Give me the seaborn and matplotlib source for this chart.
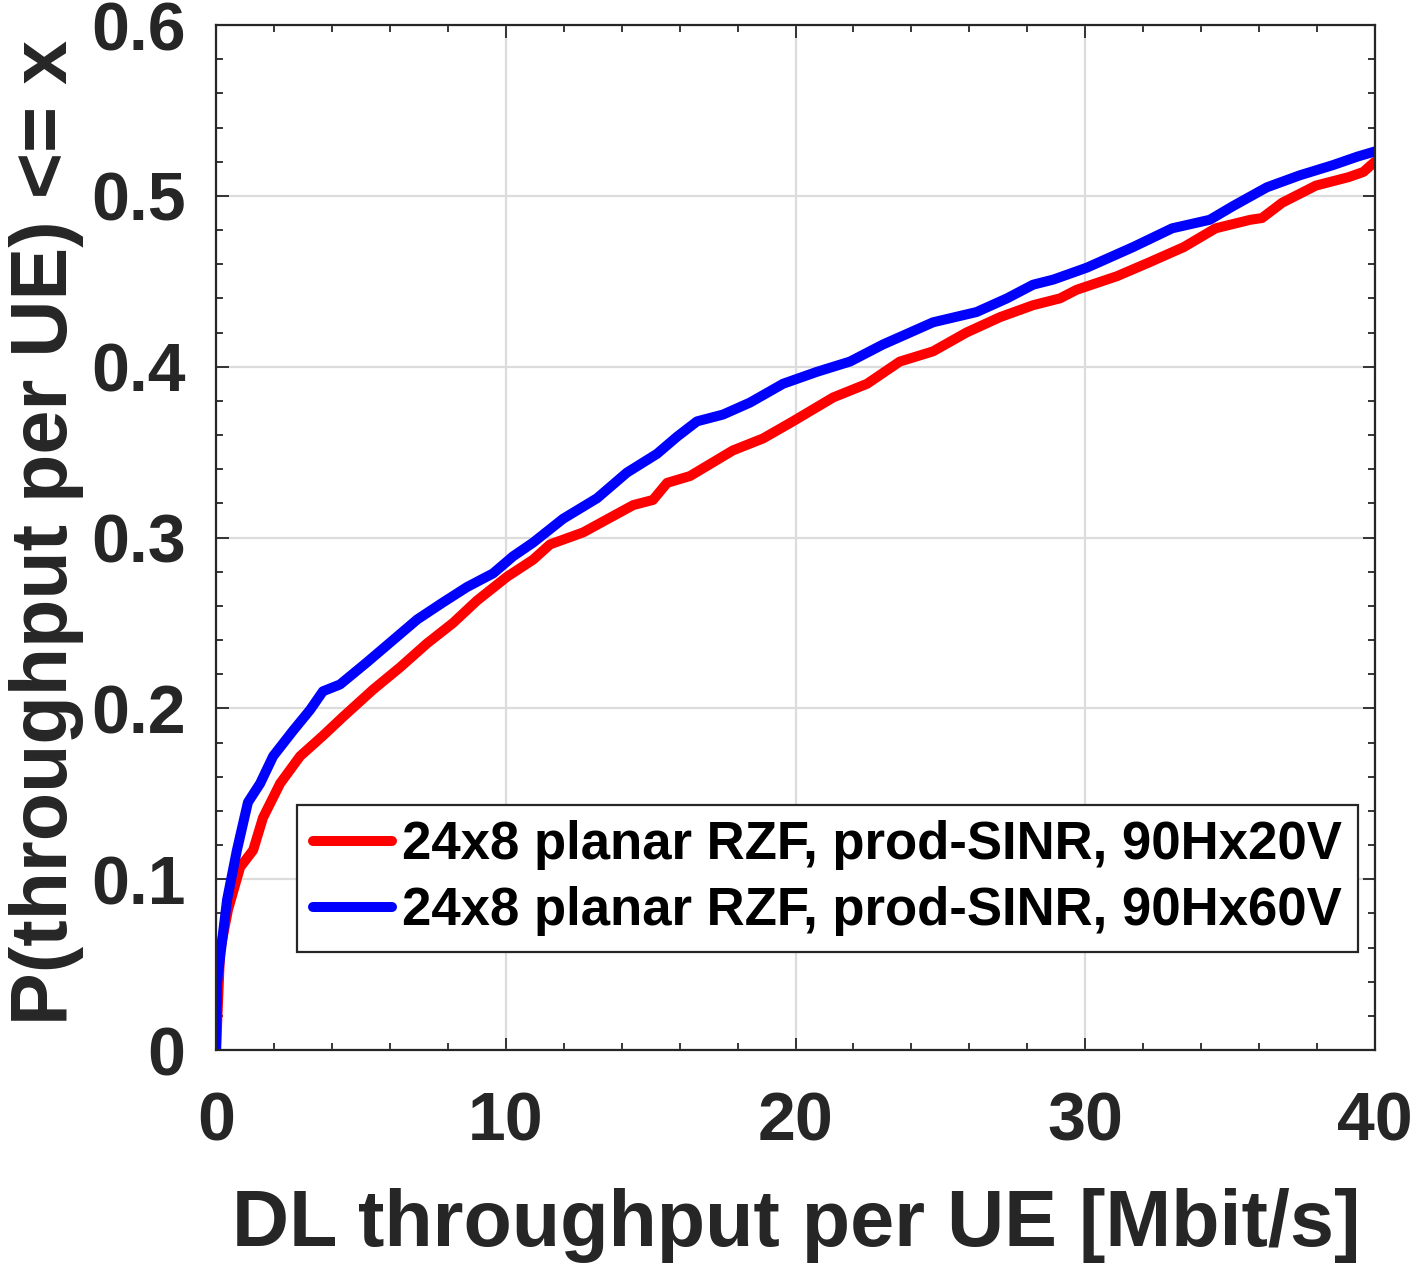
import matplotlib
matplotlib.use("Agg")
import matplotlib.pyplot as plt
from matplotlib.ticker import MultipleLocator
import pandas as pd
import seaborn as sns

# CDF
red_x = [0, 0.14, 0.41, 0.83, 1.28, 1.62, 2.21, 2.9, 3.69, 4.38, 5.42, 6.35, 7.28, 8.18,
         9.0, 10.04, 10.94, 11.53, 12.67, 14.4, 15.08, 15.57, 16.36, 17.84, 18.88, 19.91,
         21.3, 22.47, 23.6, 24.75, 25.9, 27.06, 28.2, 29.13, 29.7, 31.1, 32.2, 33.4, 34.5,
         35.7, 36.1, 36.8, 37.96, 39.1, 39.6, 40.0]
red_y = [0, 0.058, 0.082, 0.107, 0.117, 0.136, 0.156, 0.172, 0.184, 0.195, 0.211, 0.224,
         0.238, 0.250, 0.263, 0.277, 0.287, 0.296, 0.303, 0.319, 0.322, 0.332, 0.336, 0.351,
         0.358, 0.368, 0.382, 0.390, 0.403, 0.409, 0.420, 0.429, 0.436, 0.440, 0.445, 0.453,
         0.461, 0.470, 0.481, 0.486, 0.487, 0.496, 0.506, 0.511, 0.514, 0.520]

blue_x = [0, 0.03, 0.38, 0.72, 1.1, 1.52, 1.97, 2.66, 3.24, 3.69, 4.28, 5.21, 6.11, 6.94,
          7.83, 8.66, 9.56, 10.25, 10.94, 11.98, 13.15, 14.18, 15.22, 15.91, 16.6, 17.5,
          18.43, 19.57, 20.74, 21.88, 23.02, 24.75, 26.25, 27.3, 28.2, 28.9, 30.06, 31.65,
          33.0, 34.3, 35.1, 36.27, 37.4, 38.55, 39.4, 40.0]
blue_y = [0, 0.039, 0.088, 0.117, 0.145, 0.156, 0.172, 0.187, 0.199, 0.210, 0.214, 0.227,
          0.240, 0.252, 0.262, 0.271, 0.279, 0.289, 0.297, 0.311, 0.323, 0.338, 0.349, 0.359,
          0.368, 0.372, 0.379, 0.390, 0.397, 0.403, 0.413, 0.426, 0.432, 0.440, 0.448, 0.451,
          0.458, 0.470, 0.481, 0.486, 0.494, 0.505, 0.512, 0.518, 0.523, 0.526]

labels = ["24x8 planar RZF, prod-SINR, 90Hx20V", "24x8 planar RZF, prod-SINR, 90Hx60V"]
colors = ["#ff0000", "#0000ff"]
x_ticks = [0, 10, 20, 30, 40]
y_ticks = [0, 0.1, 0.2, 0.3, 0.4, 0.5, 0.6]
y_ticklabels = ["0", "0.1", "0.2", "0.3", "0.4", "0.5", "0.6"]

sns.set_theme(style="ticks")
plt.rcParams["font.family"] = ["Liberation Sans", "DejaVu Sans"]
plt.rcParams["font.weight"] = "bold"

dark = "#262626"

df = pd.concat([
    pd.DataFrame({"x": red_x, "y": red_y, "series": labels[0]}),
    pd.DataFrame({"x": blue_x, "y": blue_y, "series": labels[1]}),
])

fig = plt.figure(figsize=(14.15, 12.7), dpi=100)
ax = fig.add_axes([0.1527, 0.1732, 0.9717 - 0.1527, 0.9803 - 0.1732])

sns.lineplot(data=df, x="x", y="y", hue="series", palette=colors, estimator=None,
             sort=False, linewidth=7.2, ax=ax)

ax.set_xlim(0, 40)
ax.set_ylim(0, 0.6)
ax.set_xticks(x_ticks)
ax.set_xticklabels([str(t) for t in x_ticks])
ax.set_yticks(y_ticks)
ax.set_yticklabels(y_ticklabels)
ax.xaxis.set_minor_locator(MultipleLocator(2))
ax.yaxis.set_minor_locator(MultipleLocator(0.02))
ax.grid(True, which="major", color="#dcdcdc", linewidth=1.6)
ax.set_axisbelow(True)

ax.tick_params(which="both", direction="in", top=True, right=True, colors=dark, width=1.3)
ax.tick_params(which="major", length=9)
ax.tick_params(which="minor", length=5)
ax.tick_params(axis="x", which="major", labelsize=49, pad=29)
ax.tick_params(axis="y", which="major", labelsize=49, pad=22)
for lab in ax.get_xticklabels() + ax.get_yticklabels():
    lab.set_fontweight("bold")
    lab.set_color(dark)

for sp in ax.spines.values():
    sp.set_visible(True)
    sp.set_color(dark)
    sp.set_linewidth(1.6)

ax.set_xlabel("DL throughput per UE [Mbit/s]", fontsize=57, fontweight="bold", color=dark)
ax.set_ylabel("P(throughput per UE) <= x", fontsize=57, fontweight="bold", color=dark)
ax.xaxis.set_label_coords(0.501, -0.135)
ax.yaxis.set_label_coords(-0.114, 0.505)

leg = ax.legend(loc="lower right", bbox_to_anchor=(0.985, 0.0956), frameon=True, fancybox=False,
                framealpha=1, edgecolor=dark, handlelength=1.5, handletextpad=0.19,
                borderpad=0.3, labelspacing=0.3, borderaxespad=0,
                prop={"family": "Liberation Sans", "weight": "bold", "size": 38})
leg.get_frame().set_linewidth(1.6)
for t in leg.get_texts():
    t.set_color("black")

fig.savefig("out.png", dpi=100)
